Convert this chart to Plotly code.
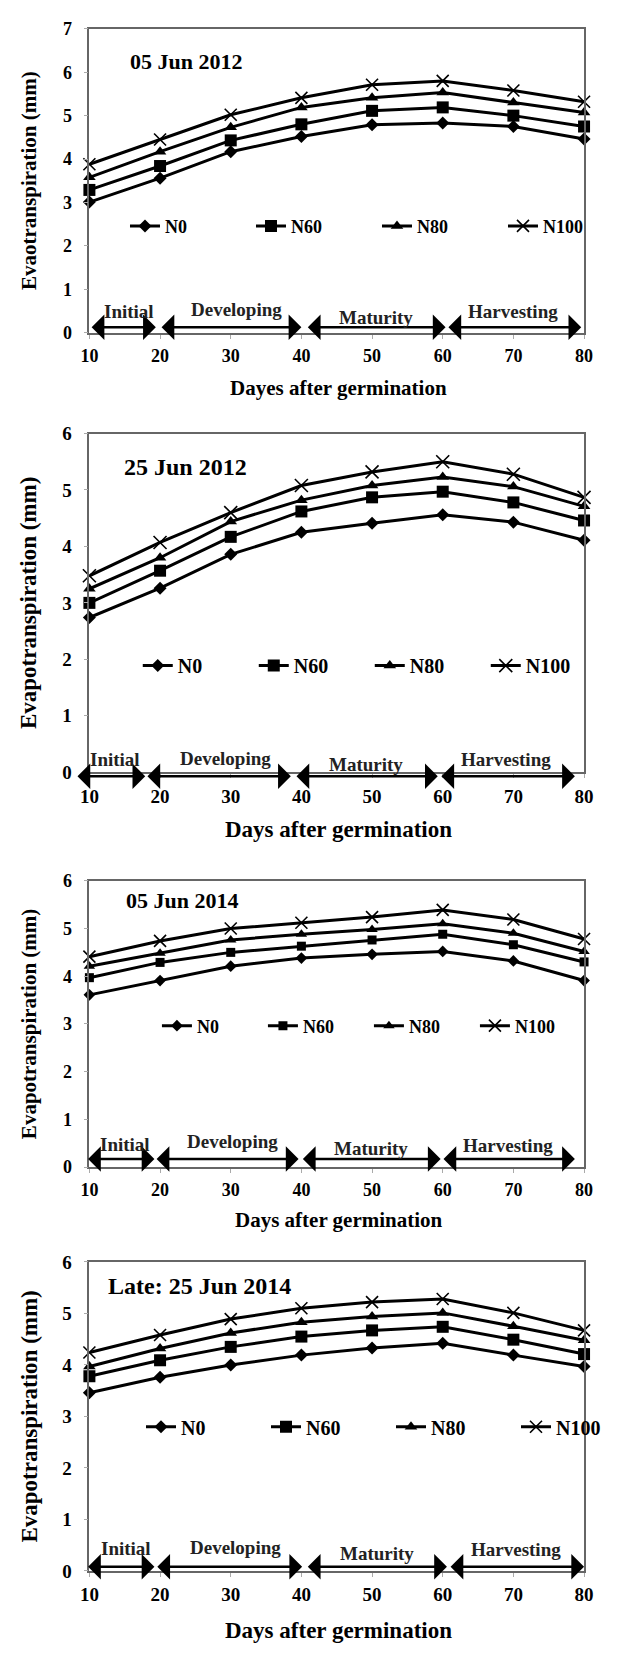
import plotly.graph_objects as go

W, H = 641, 1654

days = [10, 20, 30, 40, 50, 60, 70, 80]
series_names = ["N0", "N60", "N80", "N100"]

# Panel 1: 05 Jun 2012
p1_N0 = [3.01, 3.56, 4.17, 4.52, 4.79, 4.83, 4.75, 4.46]
p1_N60 = [3.29, 3.84, 4.43, 4.80, 5.11, 5.19, 5.00, 4.75]
p1_N80 = [3.58, 4.17, 4.73, 5.19, 5.41, 5.53, 5.30, 5.07]
p1_N100 = [3.88, 4.45, 5.02, 5.41, 5.71, 5.80, 5.58, 5.32]

# Panel 2: 25 Jun 2012
p2_N0 = [2.74, 3.26, 3.86, 4.25, 4.41, 4.56, 4.43, 4.11]
p2_N60 = [3.00, 3.57, 4.17, 4.62, 4.87, 4.97, 4.78, 4.46]
p2_N80 = [3.25, 3.80, 4.44, 4.82, 5.08, 5.23, 5.06, 4.71]
p2_N100 = [3.48, 4.07, 4.60, 5.08, 5.32, 5.50, 5.28, 4.87]

# Panel 3: 05 Jun 2014
p3_N0 = [3.61, 3.91, 4.21, 4.38, 4.46, 4.52, 4.32, 3.91]
p3_N60 = [3.97, 4.29, 4.50, 4.63, 4.76, 4.88, 4.66, 4.30]
p3_N80 = [4.21, 4.48, 4.76, 4.88, 4.98, 5.10, 4.90, 4.52]
p3_N100 = [4.41, 4.74, 5.00, 5.12, 5.24, 5.39, 5.19, 4.78]

# Panel 4: Late: 25 Jun 2014
p4_N0 = [3.46, 3.76, 4.00, 4.19, 4.33, 4.42, 4.19, 3.97]
p4_N60 = [3.78, 4.09, 4.35, 4.55, 4.67, 4.74, 4.49, 4.21]
p4_N80 = [3.97, 4.32, 4.62, 4.83, 4.94, 5.01, 4.75, 4.48]
p4_N100 = [4.24, 4.58, 4.89, 5.10, 5.22, 5.28, 5.01, 4.67]

panel_titles = ["05 Jun 2012", "25 Jun 2012", "05 Jun 2014", "Late: 25 Jun 2014"]
y_titles = ["Evaotranspiration (mm)", "Evapotranspiration (mm)",
            "Evapotranspiration (mm)", "Evapotranspiration (mm)"]
x_titles = ["Dayes after germination", "Days after germination",
            "Days after germination", "Days after germination"]
y_max = [7, 6, 6, 6]

stage_names = ["Initial", "Developing", "Maturity", "Harvesting"]
p1_stage_start = [10.1, 20.0, 40.7, 60.6]
p1_stage_end = [19.4, 40.0, 60.4, 79.6]
p2_stage_start = [8.1, 18.0, 39.1, 59.6]
p2_stage_end = [17.9, 38.5, 59.3, 78.7]
p3_stage_start = [9.6, 19.3, 40.0, 59.9]
p3_stage_end = [19.2, 39.6, 59.7, 78.7]
p4_stage_start = [9.6, 19.4, 40.7, 60.9]
p4_stage_end = [19.2, 40.1, 60.6, 80.0]

panels_data = [
    [p1_N0, p1_N60, p1_N80, p1_N100],
    [p2_N0, p2_N60, p2_N80, p2_N100],
    [p3_N0, p3_N60, p3_N80, p3_N100],
    [p4_N0, p4_N60, p4_N80, p4_N100],
]
stages = [
    (p1_stage_start, p1_stage_end),
    (p2_stage_start, p2_stage_end),
    (p3_stage_start, p3_stage_end),
    (p4_stage_start, p4_stage_end),
]

# ---------- layout/style (pixels) ----------
def py(p):
    return 1 - p / H

def pxx(p):
    return p / W

plot_left, plot_right = 87, 629
panel_box = [(19, 327), (429, 772), (882, 1172), (1268, 1581)]
tick_font = [18, 19, 18, 19]
ytitle_font = [21, 23, 21, 23]
xtitle_font = [21, 23, 21, 23]
xtitle_y = [383, 830, 1226, 1641]
date_font = [22, 24, 22, 24]
date_pos = [(15.4, 6.25), (14.6, 5.4), (14.9, 5.59), (12.3, 5.54)]
legend_y = [219, 664, 1029, 1435]
legend_x = [126, 140, 161, 144]
legend_ew = [81, 71, 61, 80]
legend_font = [18, 20, 18, 20]
arrow_y = [0.13, 0.0, 0.17, 0.08]
arrow_shift = [0, 4, 0, 0]  # px shift downward of the arrow line
label_x = [[15.6, 30.8, 50.5, 70.0], [13.6, 29.3, 49.2, 69.0],
           [15.0, 30.3, 49.9, 69.3], [15.2, 30.7, 50.7, 70.4]]
label_y = [[0.5, 0.53, 0.36, 0.5], [0.22, 0.25, 0.13, 0.22],
           [0.48, 0.53, 0.38, 0.46], [0.43, 0.46, 0.33, 0.41]]
marker_sizes = [[10, 12, 11, 12], [10, 12, 11, 13], [9, 9, 10, 12], [10, 12, 11, 12]]
symbols = ["diamond", "square", "triangle-up", "x-thin-open"]

FONT = "Liberation Serif"
fig = go.Figure()
annotations = []
layout = dict(
    width=W, height=H, margin=dict(l=0, r=0, t=0, b=0),
    paper_bgcolor="white", plot_bgcolor="white",
    font=dict(family=FONT, color="black"),
)

for i in range(4):
    k = "" if i == 0 else str(i + 1)
    xa, ya = "x" + k, "y" + k
    leg = "legend" + k
    for j, name in enumerate(series_names):
        fig.add_trace(go.Scatter(
            x=days, y=panels_data[i][j], name=name, mode="lines+markers",
            xaxis=xa, yaxis=ya, legend=leg,
            line=dict(color="black", width=3),
            marker=dict(symbol=symbols[j], size=marker_sizes[i][j], color="black",
                        line=dict(color="black", width=1.6 if j == 3 else 0)),
            cliponaxis=False,
        ))
    top, bot = panel_box[i]
    layout["xaxis" + k] = dict(
        domain=[pxx(plot_left), pxx(plot_right)], anchor=ya, range=[10, 80],
        tickvals=days, showline=True, linecolor="#666", linewidth=1.5, mirror=True,
        ticks="outside", ticklen=4, tickcolor="#aaa", tickwidth=1,
        showgrid=False, zeroline=False, ticklabelstandoff=2,
        tickfont=dict(family=FONT, size=tick_font[i], weight="bold", color="black"),
    )
    layout["yaxis" + k] = dict(
        domain=[py(bot), py(top)], anchor=xa, range=[0, y_max[i]],
        dtick=1, showline=True, linecolor="#666", linewidth=1.5, mirror=True,
        ticks="outside", ticklen=4, tickcolor="#aaa", tickwidth=1,
        showgrid=False, zeroline=False, ticklabelstandoff=8,
        tickfont=dict(family=FONT, size=tick_font[i], weight="bold", color="black"),
    )
    layout[leg] = dict(
        orientation="h", x=pxx(legend_x[i]), xanchor="left",
        y=py(legend_y[i]), yanchor="middle", bgcolor="rgba(0,0,0,0)",
        borderwidth=0, entrywidth=legend_ew[i], entrywidthmode="pixels",
        tracegroupgap=0, itemsizing="trace",
        font=dict(family=FONT, size=legend_font[i], weight="bold", color="black"),
    )
    # axis titles
    annotations.append(dict(
        text=y_titles[i], xref="paper", yref="paper", x=pxx(21), y=py((top + bot) / 2),
        textangle=-90, showarrow=False, xanchor="center", yanchor="middle",
        font=dict(family=FONT, size=ytitle_font[i], weight="bold", color="black"),
    ))
    annotations.append(dict(
        text=x_titles[i], xref="paper", yref="paper",
        x=pxx((plot_left + plot_right) / 2 + 2), y=py(xtitle_y[i]),
        showarrow=False, xanchor="center", yanchor="middle",
        font=dict(family=FONT, size=xtitle_font[i], weight="bold", color="black"),
    ))
    # date title
    annotations.append(dict(
        text=panel_titles[i], xref=xa, yref=ya, x=date_pos[i][0], y=date_pos[i][1],
        showarrow=False, xanchor="left", yanchor="middle",
        font=dict(family=FONT, size=date_font[i], weight="bold", color="black"),
    ))
    # stage arrows and labels
    s_start, s_end = stages[i]
    for s in range(4):
        annotations.append(dict(
            text="", xref=xa, yref=ya, x=s_end[s], y=arrow_y[i],
            axref=xa, ayref="pixel", ax=s_start[s], ay=0,
            yshift=-arrow_shift[i],
            showarrow=True, arrowside="end+start", arrowhead=1, startarrowhead=1,
            arrowsize=1.7, startarrowsize=1.7, arrowwidth=2.5, arrowcolor="black",
            standoff=0, startstandoff=0,
        ))
        annotations.append(dict(
            text=stage_names[s], xref=xa, yref=ya, x=label_x[i][s], y=label_y[i][s],
            showarrow=False, xanchor="center", yanchor="middle",
            font=dict(family=FONT, size=19, weight="bold", color="#222"),
        ))

layout["annotations"] = annotations
fig.update_layout(**layout)
fig.write_html("out.html")
